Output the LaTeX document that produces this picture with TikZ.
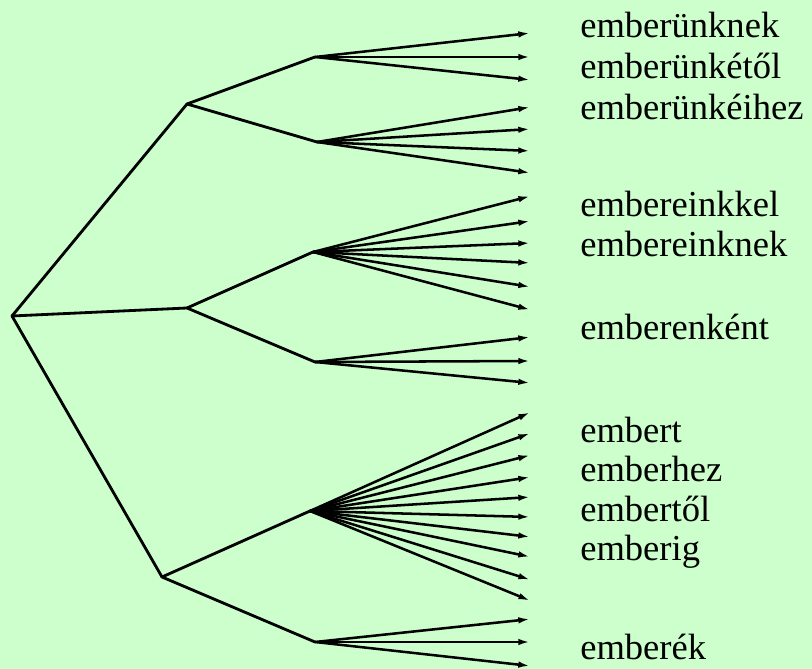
\documentclass[tikz,border=0pt]{standalone}
\usepackage{fontspec}
\setmainfont{Liberation Serif}
\usetikzlibrary{arrows.meta}
\definecolor{bggreen}{RGB}{204,255,204}
\tikzset{
  branch/.style={line width=2pt,line cap=round,line join=round},
  leaf/.style={line width=1.8pt,-{Latex[length=9pt,width=4.5pt]}},
  word/.style={anchor=base west,inner sep=0pt,font=\fontsize{26}{30}\selectfont}
}
\begin{document}
\begin{tikzpicture}[x=0.025cm,y=-0.025cm]
\fill[bggreen] (0,0) rectangle (812,669);
\useasboundingbox (0,0) rectangle (812,669);
% root and first level
\coordinate (root) at (12,316);
\coordinate (u) at (187,104);   % -unk
\coordinate (e) at (187,308);   % -eink
\coordinate (t) at (162,577);   % singular
\draw[branch] (root) -- (u);
\draw[branch] (root) -- (e);
\draw[branch] (root) -- (t);
% second level
\coordinate (ua) at (315,57);
\coordinate (ub) at (317,142);
\coordinate (ea) at (313,252);
\coordinate (eb) at (315,362);
\coordinate (ta) at (310,511);
\coordinate (tb) at (315,642);
\draw[branch] (u) -- (ua);
\draw[branch] (u) -- (ub);
\draw[branch] (e) -- (ea);
\draw[branch] (e) -- (eb);
\draw[branch] (t) -- (ta);
\draw[branch] (t) -- (tb);
% leaves with arrows
\foreach \y [count=\i] in {33,57,80}
  {\coordinate (ua\i) at (531,\y); \draw[leaf] (ua) -- (ua\i);}
\foreach \y [count=\i] in {107,129,151,173}
  {\coordinate (ub\i) at (531,\y); \draw[leaf] (ub) -- (ub\i);}
\foreach \y [count=\i] in {196,221,243,263,287,310}
  {\coordinate (ea\i) at (531,\y); \draw[leaf] (ea) -- (ea\i);}
\foreach \y [count=\i] in {337,361,383}
  {\coordinate (eb\i) at (531,\y); \draw[leaf] (eb) -- (eb\i);}
\foreach \y [count=\i] in {412,433,455,477,497,517,537,557,580,601}
  {\coordinate (ta\i) at (531,\y); \draw[leaf] (ta) -- (ta\i);}
\foreach \y [count=\i] in {619,642,666}
  {\coordinate (tb\i) at (531,\y); \draw[leaf] (tb) -- (tb\i);}
% word forms
\node[word] (w1) at (580,38) {emberünknek};
\node[word] (w2) at (580,79) {emberünkétől};
\node[word] (w3) at (580,120) {emberünkéihez};
\node[word] (w4) at (580,217) {embereinkkel};
\node[word] (w5) at (580,257) {embereinknek};
\node[word] (w6) at (580,340) {emberenként};
\node[word] (w7) at (580,443) {embert};
\node[word] (w8) at (580,482) {emberhez};
\node[word] (w9) at (580,522) {embertől};
\node[word] (w10) at (580,561) {emberig};
\node[word] (w11) at (580,660) {emberék};
\end{tikzpicture}
\end{document}
